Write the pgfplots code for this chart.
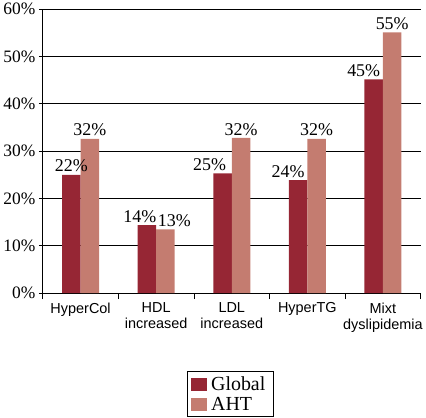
\documentclass[border=0pt]{standalone}
\usepackage{fontspec}
\setmainfont{Liberation Serif}
\newfontfamily\catfont{Liberation Sans}
\usepackage{pgfplots}
\pgfplotsset{compat=1.18}
\definecolor{cglobal}{RGB}{150,38,52}
\definecolor{caht}{RGB}{196,124,112}
\begin{document}
\begin{tikzpicture}
\begin{axis}[
  scale only axis, width=378bp, height=284bp,
  xmin=-0.5, xmax=4.5, ymin=0, ymax=60,
  ybar=0pt, bar width=18.5bp,
  axis x line*=bottom, axis y line*=left,
  axis line style={line width=0.9bp, -},
  xtick={0,...,4},
  xticklabels={HyperCol, HDL\\increased, LDL\\increased, HyperTG, Mixt\\dyslipidemia},
  xticklabel style={font=\catfont\fontsize{14.5}{16}\selectfont, align=center, yshift=-2bp},
  major x tick style={draw=none},
  minor xtick={-0.5,0.5,...,4.5},
  minor tick length=6bp, major tick length=4bp,
  tick align=outside, xtick pos=bottom, ytick pos=left,
  tick style={black, line width=0.9bp},
  ytick={0,10,...,60},
  yticklabel={\pgfmathprintnumber{\tick}\%},
  yticklabel style={font=\fontsize{17.5}{19}\selectfont},
  /pgf/number format/assume math mode=true,
  ymajorgrids, grid style={black, line width=0.9bp},
  nodes near coords={\pgfmathprintnumber{\pgfplotspointmeta}\%},
  point meta=explicit,
  visualization depends on={value \thisrow{dx} \as \dx},
  every node near coord/.append style={font=\fontsize{18}{20}\selectfont, inner sep=1bp, yshift=1.5bp, xshift=\dx bp, /pgf/number format/assume math mode=true},
  legend style={at={(0.496,-0.275)}, anchor=north, draw=black, line width=0.9bp,
    font=\fontsize{20}{22}\selectfont, row sep=1bp, inner xsep=4bp, inner ysep=3bp,
    nodes={inner xsep=4bp}, cells={anchor=west}},
  legend image code/.code={\fill[#1] (0bp,-6.5bp) rectangle (16bp,6.5bp);},
]
\addplot[fill=cglobal, draw=none] table[meta=l] {
x y l dx
0 25.0 22 0
1 14.4 14 -7
2 25.3 25 -13
3 23.9 24 -10
4 45.2 45 -10
};
\addplot[fill=caht, draw=none] table[meta=l] {
x y l dx
0 32.6 32 0
1 13.5 13 9
2 32.8 32 0
3 32.6 32 0
4 55.1 55 0
};
\legend{Global\hspace{6bp}, AHT}
\end{axis}
\end{tikzpicture}
\end{document}
